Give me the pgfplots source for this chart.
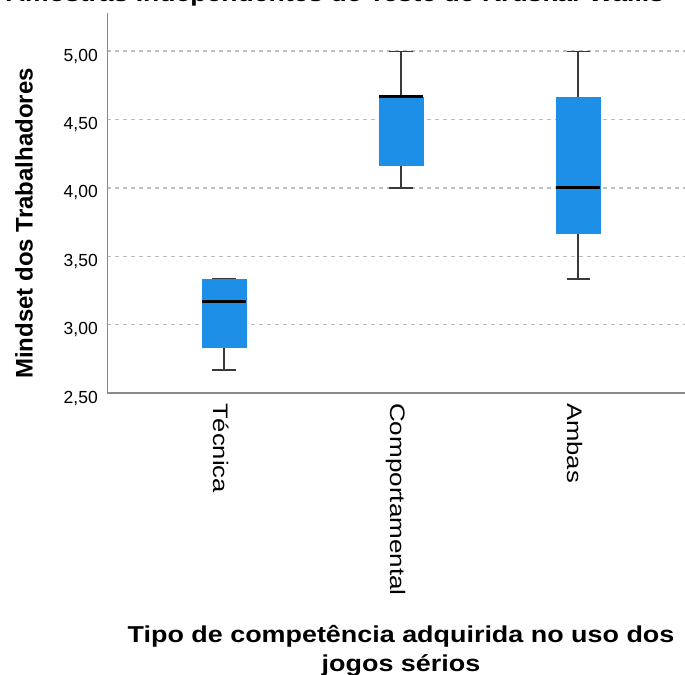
\documentclass[border=0pt]{standalone}
\usepackage{fontspec}
\setmainfont{Liberation Sans}
\usepackage{pgfplots}
\pgfplotsset{compat=1.18}
\usepgfplotslibrary{statistics}
\definecolor{boxblue}{HTML}{1E8FE6}
\definecolor{axgray}{HTML}{8A8A8A}
\definecolor{gridgray}{HTML}{BDBDBD}
\definecolor{whisk}{HTML}{3A3A3A}
\begin{document}
\begin{tikzpicture}
\begin{axis}[
  at={(107bp,282bp)}, anchor=south west,
  scale only axis, width=588bp, height=380bp,
  xmin=0.339, xmax=3.661, ymin=2.5, ymax=5.28,
  axis x line*=bottom, axis y line*=left,
  axis line style={axgray, line width=1bp, -},
  x axis line style={line width=1.6bp},
  xtick={1,2,3},
  xticklabels={\scalebox{1.22}[1]{Técnica},\scalebox{1.24}[1]{Comportamental},\scalebox{1.22}[1]{Ambas}},
  ytick={2.5,3,3.5,4,4.5,5},
  major tick length=0pt,
  ymajorgrids,
  major grid style={gridgray, line width=1.6bp, dash pattern=on 4bp off 4bp},
  yticklabel={\pgfmathprintnumber[fixed, fixed zerofill, precision=2, use comma, assume math mode=true]{\tick}},
  yticklabel style={font=\fontsize{17.5bp}{20bp}\selectfont, anchor=base east, inner sep=0pt, xshift=-9bp, yshift=-10bp},
  xticklabel style={font=\fontsize{21bp}{25bp}\selectfont, inner sep=0pt, xshift=-11bp, yshift=-10bp, rotate=-90, anchor=base west},
  ylabel={Mindset dos Trabalhadores},
  ylabel style={font=\bfseries\fontsize{24bp}{28bp}\selectfont, at={(axis description cs:-0.1412,0.446)}, anchor=center, inner sep=0pt},
  xlabel={\scalebox{1.17}[1]{Tipo de competência adquirida no uso dos}\\\scalebox{1.17}[1]{jogos sérios}},
  xlabel style={font=\bfseries\fontsize{23bp}{29bp}\selectfont, align=center, at={(axis description cs:0.5,-0.7316)}, anchor=base, inner sep=0pt},
  title={\scalebox{1.18}[1]{Amostras Independentes de Teste de Kruskal-Wallis}},
  title style={font=\bfseries\fontsize{22.5bp}{26bp}\selectfont, at={(axis description cs:0.3878,1)}, anchor=base, yshift=6bp, inner sep=0pt},
  boxplot/draw direction=y,
  boxplot/box extend=0.25,
  boxplot/whisker extend=0.13,
  boxplot/every box/.style={draw=boxblue, fill=boxblue, line width=0.5bp},
  boxplot/every whisker/.style={draw=whisk, line width=1.4bp},
  boxplot/every median/.style={draw=black, line width=3bp},
]
\addplot[boxplot prepared={draw position=1, lower whisker=2.667, lower quartile=2.833, median=3.167, upper quartile=3.333, upper whisker=3.333}] coordinates {};
\addplot[boxplot prepared={draw position=2, lower whisker=4.000, lower quartile=4.167, median=4.667, upper quartile=4.667, upper whisker=5.000}] coordinates {};
\addplot[boxplot prepared={draw position=3, lower whisker=3.333, lower quartile=3.667, median=4.000, upper quartile=4.667, upper whisker=5.000}] coordinates {};
\end{axis}
\pgfresetboundingbox
\useasboundingbox (0,0) rectangle (685bp,675bp);
\end{tikzpicture}
\end{document}
